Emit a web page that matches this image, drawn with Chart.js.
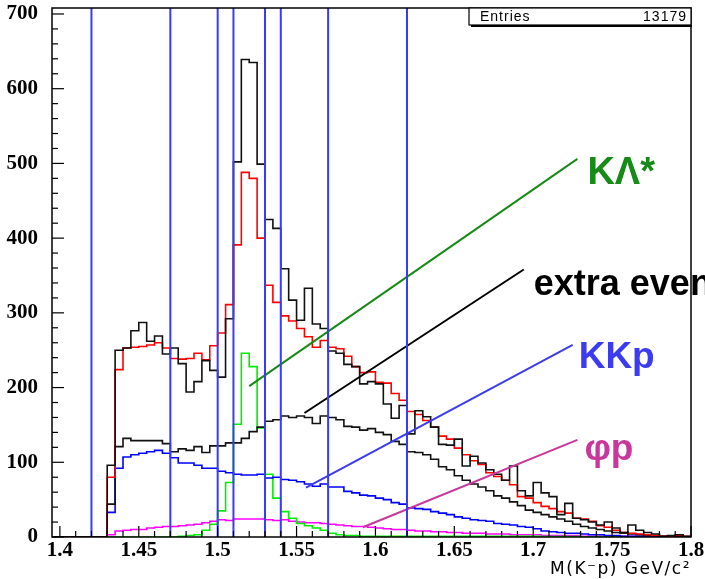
<!DOCTYPE html>
<html>
<head>
<meta charset="utf-8">
<script src="https://cdn.jsdelivr.net/npm/chart.js@4.4.1/dist/chart.umd.min.js"></script>
<style>
  html, body { margin: 0; padding: 0; background: #fff; }
  #wrap { position: relative; width: 705px; height: 579px; }
</style>
</head>
<body>
<div id="wrap"><canvas id="massChart" width="705" height="579"></canvas></div>
<script>
// histogram bins: low edges start at 1.430, width 0.005 GeV
const binStart = 1.43;
const binWidth = 0.005;

// measured data (black, spiky)
const dataCounts = [
  96, 250, 253, 276, 287, 262, 269, 245, 253, 232,
  194, 208, 236, 223, 214, 292, 502, 639, 635, 499,
  425, 413, 359, 317, 290, 333, 285, 279, 249, 246,
  231, 228, 205, 208, 205, 178, 159, 176, 138, 169,
  161, 147, 124, 123, 131, 95, 108, 99, 90, 84,
  76, 95, 62, 55, 73, 59, 54, 30, 45, 25,
  23, 20, 16, 20, 12, 6, 16, 9, 6, 4,
  1, 2, 3, 1
];
// total fit (red)
const fitTotal = [
  80, 224, 253, 254, 255, 257, 260, 253, 239, 238,
  239, 246, 237, 256, 273, 311, 391, 488, 480, 400,
  337, 314, 296, 289, 279, 268, 254, 263, 254, 252,
  242, 228, 220, 221, 207, 206, 192, 183, 168, 164,
  156, 147, 135, 131, 119, 110, 102, 97, 86, 81,
  76, 70, 54, 52, 46, 41, 38, 34, 32, 25,
  24, 21, 15, 13, 9, 6, 5, 4, 3, 2,
  1, 1, 2, 1
];
// extra events (black, smooth)
const extraEvents = [
  44, 121, 132, 129, 129, 129, 129, 125, 114, 118,
  116, 121, 113, 122, 122, 126, 126, 132, 141, 147,
  155, 157, 162, 160, 162, 160, 152, 162, 160, 157,
  148, 147, 143, 145, 140, 137, 128, 124, 114, 113,
  110, 104, 94, 90, 82, 76, 71, 67, 62, 55,
  52, 47, 42, 36, 33, 30, 27, 24, 21, 17,
  14, 12, 10, 8, 6, 5, 4, 3, 2, 2,
  1, 1, 1, 0
];
// K K p (blue)
const kkp = [
  33, 92, 107, 110, 112, 114, 116, 112, 106, 99,
  99, 96, 92, 92, 88, 86, 84, 83, 83, 84,
  79, 80, 77, 76, 74, 71, 68, 71, 67, 67,
  61, 59, 56, 55, 52, 50, 46, 44, 39, 38,
  37, 34, 32, 30, 27, 25, 23, 22, 21, 18,
  17, 16, 14, 13, 11, 8, 7, 6, 5, 5,
  4, 3, 3, 2, 2, 1, 1, 1, 1, 1,
  0, 0, 0, 0
];
// K Lambda* (green)
const kLambdaStar = [
  0, 0, 0, 0, 0, 0, 0, 0, 0, 1,
  2, 3, 9, 17, 35, 73, 151, 246, 228, 146,
  84, 52, 34, 25, 18, 15, 12, 9, 5, 3,
  2, 2, 1, 1, 1, 1, 1, 1, 1, 1,
  1, 1, 1, 1, 1, 1, 1, 1, 1, 1,
  1, 1, 1, 1, 1, 0.5, 0.5, 0.5, 0.5, 0.5,
  0, 0, 0, 0, 0, 0, 0, 0, 0, 0,
  0, 0, 0, 0
];
// phi p (magenta)
const phiP = [
  3, 8, 9, 10, 10, 12, 13, 14, 14, 15,
  16, 17, 19, 21, 23, 22, 24, 24, 24, 24,
  23, 22, 23, 21, 20, 19, 19, 18, 17, 16,
  15, 14, 14, 13, 12, 11, 10, 10, 9, 8,
  8, 7, 7, 6, 6, 5, 5, 5, 4, 4,
  4, 3, 3, 3, 3, 2, 2, 2, 2, 2,
  1, 1, 1, 1, 1, 1, 1, 1, 1, 0.5,
  0.5, 0.5, 0.5, 0
];

// mass cut positions (vertical lines)
const cutLines = [1.42, 1.47, 1.50, 1.51, 1.53, 1.54, 1.57, 1.62];

// component labels and their pointer lines (mass, counts)
const labelNames = ['KΛ*', 'extra events', 'KKp', 'φp'];
const pointerFrom = [[1.520, 202], [1.555, 166], [1.556, 66], [1.592, 13]];
const pointerTo = [[1.728, 506], [1.694, 358], [1.725, 257], [1.728, 130]];

const yTickLabels = ['0', '100', '200', '300', '400', '500', '600', '700'];
const xTickLabels = ['1.4', '1.45', '1.5', '1.55', '1.6', '1.65', '1.7', '1.75', '1.8'];
const entries = 13179;

const xMin = 1.395, xMax = 1.8, yMax = 708;

const labelColors = ['#178a17', '#000000', '#3b3bf0', '#c8379b'];
const labelFonts = ['bold 38px "Liberation Sans"', 'bold 36px "Liberation Sans"',
                    'bold 37px "Liberation Sans"', 'bold 37px "Liberation Sans"'];
const labelDx = [10, 10, 6, 7];
const labelDy = [25, 25, 23, 20];

function histPoints(vals) {
    const pts = [{ x: xMin, y: 0 }];
    vals.forEach(function(v, i) {
        pts.push({ x: binStart + i * binWidth, y: v });
    });
    pts.push({ x: binStart + vals.length * binWidth, y: vals[vals.length - 1] });
    return pts;
}

function histSet(label, vals, color) {
    return {
        label: label,
        data: histPoints(vals),
        borderColor: color,
        borderWidth: 1.6,
        stepped: 'before',
        pointRadius: 0,
        fill: false
    };
}

const datasets = [];

// cut lines on top
cutLines.forEach(function(c) {
    datasets.push({
        data: [{ x: c, y: 0 }, { x: c, y: yMax }],
        borderColor: '#3a3aff',
        borderWidth: 2,
        pointRadius: 0,
        fill: false
    });
});

// pointer lines
pointerFrom.forEach(function(p, i) {
    datasets.push({
        data: [{ x: p[0], y: p[1] }, { x: pointerTo[i][0], y: pointerTo[i][1] }],
        borderColor: labelColors[i],
        borderWidth: 2,
        pointRadius: 0,
        fill: false
    });
});

datasets.push(histSet('data', dataCounts, '#111111'));
datasets.push(histSet('fit', fitTotal, '#ff0000'));
datasets.push(histSet('extra', extraEvents, '#111111'));
datasets.push(histSet('KKp', kkp, '#0000ff'));
datasets.push(histSet('KLambda*', kLambdaStar, '#00ee00'));
datasets.push(histSet('phi p', phiP, '#ff00ff'));

// ROOT style frame, inward ticks, labels, stats box
const rootStyle = {
    id: 'rootStyle',
    afterDraw: function(chart) {
        const ctx = chart.ctx;
        const a = chart.chartArea;
        const x = chart.scales.x;
        const y = chart.scales.y;
        ctx.save();

        ctx.strokeStyle = '#000';
        ctx.lineWidth = 1.5;
        ctx.strokeRect(a.left, a.top, a.right - a.left, a.bottom - a.top);

        // y ticks
        ctx.lineWidth = 1.2;
        for (let v = 0; v <= 700; v += 20) {
            const py = y.getPixelForValue(v);
            const len = v % 100 === 0 ? 12 : 6;
            ctx.beginPath();
            ctx.moveTo(a.left, py);
            ctx.lineTo(a.left + len, py);
            ctx.stroke();
        }
        // x ticks
        for (let i = 0; i <= 40; i++) {
            const px = x.getPixelForValue(1.4 + i * 0.01);
            const len = i % 5 === 0 ? 11 : 6;
            ctx.beginPath();
            ctx.moveTo(px, a.bottom);
            ctx.lineTo(px, a.bottom - len);
            ctx.stroke();
        }

        // tick labels
        ctx.fillStyle = '#000';
        ctx.font = 'bold 21px "Liberation Serif"';
        ctx.textAlign = 'right';
        ctx.textBaseline = 'middle';
        yTickLabels.forEach(function(t) {
            ctx.fillText(t, 38, y.getPixelForValue(parseFloat(t)));
        });
        ctx.textAlign = 'center';
        xTickLabels.forEach(function(t) {
            ctx.fillText(t, x.getPixelForValue(parseFloat(t)), a.bottom + 14);
        });

        // axis title
        ctx.font = '17px "DejaVu Sans"';
        ctx.letterSpacing = '1.5px';
        ctx.textAlign = 'right';
        ctx.fillText('M(K⁻p) GeV/c²', a.right, a.bottom + 33);
        ctx.letterSpacing = '0px';

        // stats box
        const bx = 469, bw = a.right - 469, by = a.top, bh = 17;
        ctx.fillStyle = '#fff';
        ctx.fillRect(bx, by, bw, bh);
        ctx.lineWidth = 1.2;
        ctx.strokeRect(bx, by, bw, bh);
        ctx.lineWidth = 2;
        ctx.beginPath();
        ctx.moveTo(bx + 2, by + bh + 1);
        ctx.lineTo(bx + bw + 1, by + bh + 1);
        ctx.stroke();
        ctx.fillStyle = '#000';
        ctx.font = '14px "Liberation Sans"';
        ctx.letterSpacing = '1px';
        ctx.textBaseline = 'alphabetic';
        ctx.textAlign = 'left';
        ctx.fillText('Entries', bx + 11, by + 13);
        ctx.textAlign = 'right';
        ctx.fillText(String(entries), bx + bw - 4, by + 13);
        ctx.letterSpacing = '0px';

        // component labels at the end of their pointer lines
        ctx.textAlign = 'left';
        labelNames.forEach(function(name, i) {
            const px = x.getPixelForValue(pointerTo[i][0]);
            const py = y.getPixelForValue(pointerTo[i][1]);
            ctx.fillStyle = labelColors[i];
            ctx.font = labelFonts[i];
            ctx.fillText(name, px + labelDx[i], py + labelDy[i]);
        });

        ctx.restore();
    }
};

const ctx = document.getElementById('massChart').getContext('2d');
const massChart = new Chart(ctx, {
    type: 'line',
    data: { datasets: datasets },
    options: {
        responsive: false,
        animation: false,
        devicePixelRatio: 1,
        layout: { padding: { left: 52, right: 14, top: 8, bottom: 42 } },
        plugins: {
            legend: { display: false },
            tooltip: { enabled: false }
        },
        scales: {
            x: { type: 'linear', min: xMin, max: xMax, display: false },
            y: { min: 0, max: yMax, display: false }
        }
    },
    plugins: [rootStyle]
});
</script>
</body>
</html>
